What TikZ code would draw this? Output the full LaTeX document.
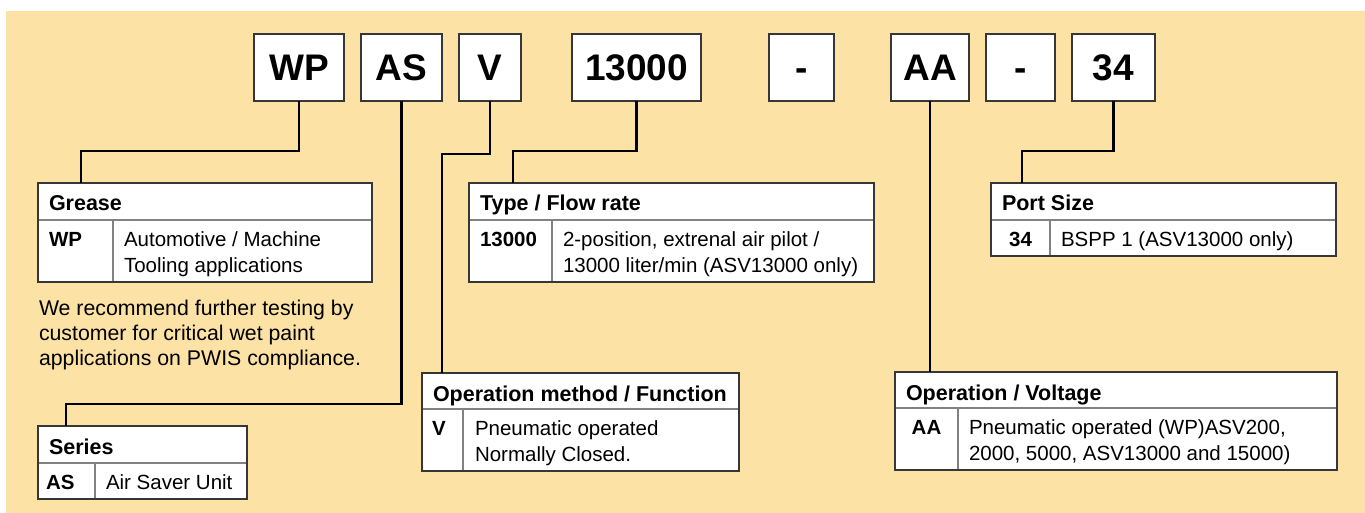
\documentclass[tikz,border=0pt]{standalone}
\usepackage{fontspec}
\setmainfont{Liberation Sans}
\definecolor{bgyellow}{RGB}{253,226,165}
\definecolor{frame}{RGB}{55,55,55}
\definecolor{sepgray}{RGB}{130,130,130}
\newcommand\spectab[7]{%
  \node[tbox, minimum width={(#4-#2)*1pt}, minimum height={(#5-#3)*1pt}] (#1) at (#2,#3) {};
  \draw[tsep] (#2,#6) -- (#4,#6) (#7,#6) -- (#7,#5);
  \draw[tframe] (#1.north west) rectangle (#1.south east);
}
\begin{document}
\begin{tikzpicture}[x=1pt,y=-1pt,
  every node/.style={inner sep=0pt, outer sep=0pt},
  codebox/.style={draw=frame, line width=1.4pt, fill=white, anchor=north west,
    minimum height=67pt, font=\fontsize{37}{40}\selectfont\bfseries},
  tbox/.style={fill=white, anchor=north west},
  tframe/.style={draw=frame, line width=1.4pt},
  tsep/.style={draw=sepgray, line width=1.4pt},
  htxt/.style={anchor=base west, font=\fontsize{21.5}{26}\selectfont\bfseries},
  ctxt/.style={anchor=base west, font=\fontsize{20.5}{26}\selectfont\bfseries},
  cctxt/.style={anchor=base, font=\fontsize{20.5}{26}\selectfont\bfseries},
  dtxt/.style={anchor=base west, font=\fontsize{20.5}{26}\selectfont},
  ntxt/.style={anchor=base west, font=\fontsize{21.3}{26}\selectfont},
  conn/.style={draw=black, line width=2.8pt}]
\useasboundingbox (0,0) rectangle (1365,513);
\fill[white] (0,0) rectangle (1365,513);
\fill[bgyellow] (6,11) rectangle (1365,513);

% code boxes
\node[codebox, minimum width=90pt] (wp) at (254,34) {WP};
\node[codebox, minimum width=81pt] (as) at (361,34) {AS};
\node[codebox, minimum width=62pt] (v) at (459,34) {V};
\node[codebox, minimum width=129pt] (flow) at (572,34) {13000};
\node[codebox, minimum width=65pt] (dasha) at (769,34) {\vphantom{A}-};
\node[codebox, minimum width=78pt] (aa) at (891,34) {AA};
\node[codebox, minimum width=69pt] (dashb) at (986,34) {\vphantom{A}-};
\node[codebox, minimum width=83pt] (port) at (1072,34) {34};

% tables
\spectab{grease}{38}{183}{372}{282}{220}{113}
\spectab{type}{469}{183}{874}{282}{220}{552}
\spectab{portsize}{991}{183}{1336}{256}{220}{1050}
\spectab{opmethod}{422}{373}{739}{471}{409}{463}
\spectab{voltage}{895}{372}{1337}{470}{408}{958}
\spectab{series}{38}{426}{247}{499}{463}{95}

% table texts
\node[htxt] (greaseH) at (49,211) {Grease};
\node[ctxt] (greaseC) at (49,246) {WP};
\node[dtxt] (greaseD1) at (124,246) {Automotive / Machine};
\node[dtxt] (greaseD2) at (124,272) {Tooling applications};

\node[htxt] (typeH) at (480,211) {Type / Flow rate};
\node[ctxt] (typeC) at (480,246) {13000};
\node[dtxt] (typeD1) at (563,246) {2-position, extrenal air pilot /};
\node[dtxt] (typeD2) at (563,272) {13000 liter/min (ASV13000 only)};

\node[htxt] (portH) at (1002,211) {Port Size};
\node[cctxt] (portC) at (1020.5,246) {34};
\node[dtxt] (portD) at (1061,246) {BSPP 1 (ASV13000 only)};

\node[htxt] (opH) at (433,401) {Operation method / Function};
\node[ctxt] (opC) at (432,435) {V};
\node[dtxt] (opD1) at (475,435) {Pneumatic operated};
\node[dtxt] (opD2) at (475,461) {Normally Closed.};

\node[htxt] (voltH) at (906,400) {Operation / Voltage};
\node[cctxt] (voltC) at (926.5,434) {AA};
\node[dtxt] (voltD1) at (969,434) {Pneumatic operated (WP)ASV200,};
\node[dtxt] (voltD2) at (969,460) {2000, 5000, ASV13000 and 15000)};

\node[htxt] (seriesH) at (49,454) {Series};
\node[ctxt] (seriesC) at (46,489) {AS};
\node[dtxt] (seriesD) at (106,489) {Air Saver Unit};

% note
\node[ntxt] (note1) at (39,315) {We recommend further testing by};
\node[ntxt] (note2) at (39,340) {customer for critical wet paint};
\node[ntxt] (note3) at (39,365) {applications on PWIS compliance.};

% connectors
\coordinate (bwp) at (81,151);
\coordinate (bas) at (66,404);
\coordinate (bv) at (442,154);
\coordinate (bflow) at (513,151);
\coordinate (bport) at (1022,151);
\draw[conn] (wp.south) |- (bwp) -- (bwp |- grease.north);
\draw[conn] (as.south) |- (bas) -- (bas |- series.north);
\draw[conn] (v.south) |- (bv) -- (bv |- opmethod.north);
\draw[conn] (flow.south) |- (bflow) -- (bflow |- type.north);
\draw[conn] (aa.south) -- (aa.south |- voltage.north);
\draw[conn] (port.south) |- (bport) -- (bport |- portsize.north);
\end{tikzpicture}
\end{document}
